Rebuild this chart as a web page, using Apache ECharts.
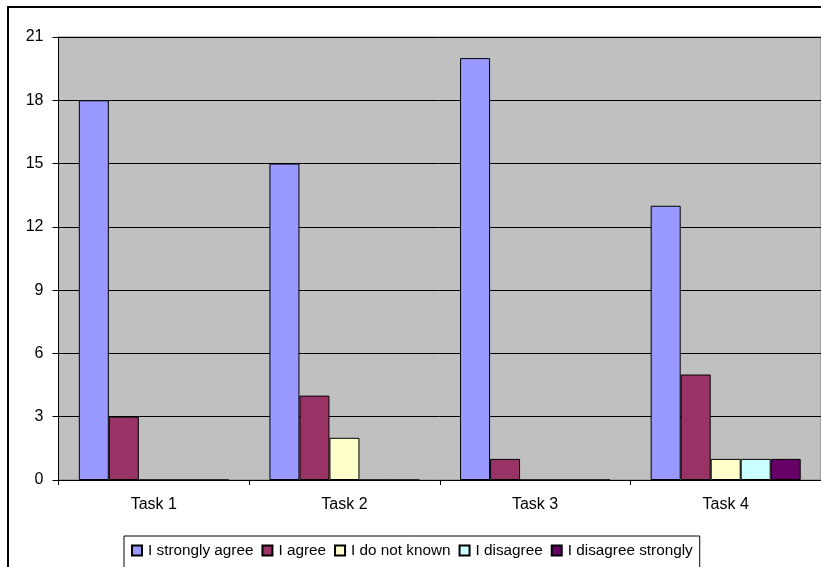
<!DOCTYPE html>
<html>
<head>
<meta charset="utf-8">
<script src="https://cdn.jsdelivr.net/npm/echarts@6/dist/echarts.min.js"></script>
<style>
  html, body { margin: 0; padding: 0; background: #fff; }
  #chart { width: 821px; height: 567px; }
</style>
</head>
<body>
<div id="chart"></div>
<script>
// Survey answers per task
const categories = ['Task 1', 'Task 2', 'Task 3', 'Task 4'];
const seriesNames = ['I strongly agree', 'I agree', 'I do not known', 'I disagree', 'I disagree strongly'];
const stronglyAgree = [18, 15, 20, 13];
const agree = [3, 4, 1, 5];
const doNotKnow = [0, 2, 0, 1];
const disagree = [0, 0, 0, 1];
const disagreeStrongly = [0, 0, 0, 1];
const yTicks = { min: 0, max: 21, interval: 3 };

const seriesValues = [stronglyAgree, agree, doNotKnow, disagree, disagreeStrongly];
const colors = ['#9999FF', '#993366', '#FFFFCC', '#CCFFFF', '#660066'];
const font = "'Liberation Sans', Arial, sans-serif";

const chart = echarts.init(document.getElementById('chart'));
chart.setOption({
  animation: false,
  backgroundColor: '#fff',
  textStyle: { fontFamily: font },
  graphic: [{
    type: 'rect',
    shape: { x: 8, y: 7, width: 840, height: 600 },
    style: { fill: 'none', stroke: '#000', lineWidth: 2 },
    silent: true,
    z: -10
  }],
  grid: {
    left: 58.5, top: 37, width: 766, height: 443,
    show: true, backgroundColor: '#C0C0C0', borderColor: '#808080', borderWidth: 1,
    containLabel: false
  },
  legend: {
    left: 124, top: 536,
    data: seriesNames,
    icon: 'rect',
    itemWidth: 10, itemHeight: 10, itemGap: 8,
    backgroundColor: '#fff', borderColor: '#000', borderWidth: 1,
    padding: [7, 7, 12, 7],
    textStyle: { fontFamily: font, fontSize: 15.3, color: '#000', padding: [0, 0, 0, 1] }
  },
  xAxis: {
    type: 'category',
    data: categories,
    axisLine: { lineStyle: { color: '#000', width: 1 } },
    axisTick: { show: true, length: 5, lineStyle: { color: '#000' } },
    axisLabel: { fontFamily: font, fontSize: 16, color: '#000', margin: 17 },
    splitLine: { show: false }
  },
  yAxis: {
    type: 'value',
    min: yTicks.min, max: yTicks.max, interval: yTicks.interval,
    axisLine: { show: true, lineStyle: { color: '#000', width: 1 } },
    axisTick: { show: true, length: 6, lineStyle: { color: '#000' } },
    axisLabel: { fontFamily: font, fontSize: 16, color: '#000', margin: 15 },
    splitLine: { show: true, lineStyle: { color: '#000', width: 1 } }
  },
  series: seriesNames.map((name, i) => ({
    name,
    type: 'bar',
    data: seriesValues[i],
    barWidth: 30,
    barGap: '0%',
    itemStyle: { color: colors[i], borderColor: '#000', borderWidth: 1 }
  }))
});
</script>
</body>
</html>
